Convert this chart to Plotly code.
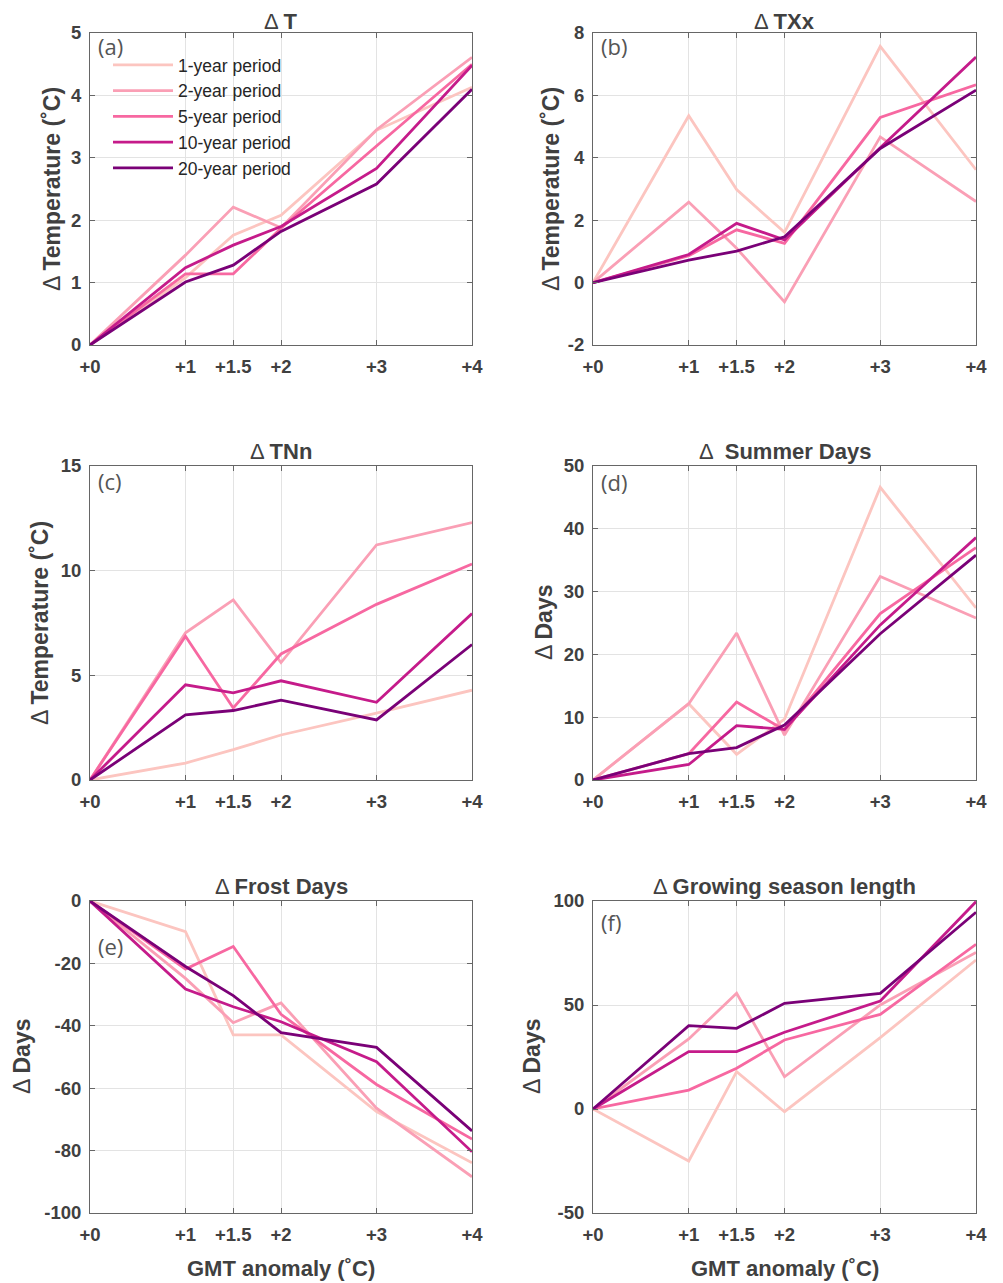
import plotly.graph_objects as go

W, H = 1003, 1283
OFF = 8  # page body margin in the rendered html

gmt = [0, 1, 1.5, 2, 3, 4]
gmt_labels = ["+0", "+1", "+1.5", "+2", "+3", "+4"]
periods = ["1-year period", "2-year period", "5-year period", "10-year period", "20-year period"]
colors = ["#fcc5c0", "#fa9fb5", "#f768a1", "#c51b8a", "#7a0177"]

# (a) Delta T
dT_1 = [0, 1.08, 1.76, 2.08, 3.44, 4.13]
dT_2 = [0, 1.44, 2.21, 1.88, 3.45, 4.61]
dT_5 = [0, 1.14, 1.14, 1.87, 3.19, 4.50]
dT_10 = [0, 1.24, 1.60, 1.90, 2.83, 4.48]
dT_20 = [0, 1.01, 1.28, 1.82, 2.58, 4.10]

# (b) Delta TXx
txx_1 = [0, 5.35, 2.98, 1.61, 7.57, 3.62]
txx_2 = [0, 2.58, 1.10, -0.62, 4.67, 2.60]
txx_5 = [0, 0.86, 1.69, 1.26, 5.29, 6.34]
txx_10 = [0, 0.90, 1.90, 1.37, 4.32, 7.23]
txx_20 = [0, 0.72, 1.01, 1.47, 4.30, 6.17]

# (c) Delta TNn
tnn_1 = [0, 0.81, 1.45, 2.15, 3.19, 4.29]
tnn_2 = [0, 7.03, 8.60, 5.61, 11.23, 12.30]
tnn_5 = [0, 6.87, 3.44, 6.02, 8.39, 10.32]
tnn_10 = [0, 4.55, 4.16, 4.74, 3.71, 7.95]
tnn_20 = [0, 3.11, 3.32, 3.81, 2.87, 6.47]

# (d) Delta Summer Days
su_1 = [0, 12.15, 4.09, 9.68, 46.6, 27.4]
su_2 = [0, 12.15, 23.4, 7.15, 32.4, 25.8]
su_5 = [0, 4.19, 12.4, 7.96, 26.5, 37.0]
su_10 = [0, 2.47, 8.66, 8.06, 24.7, 38.6]
su_20 = [0, 4.19, 5.16, 8.76, 23.3, 35.8]

# (e) Delta Frost Days
fd_1 = [0, -9.8, -42.9, -42.9, -67.5, -83.9]
fd_2 = [0, -24.8, -39.0, -32.7, -66.4, -88.4]
fd_5 = [0, -21.8, -14.6, -36.3, -58.8, -76.3]
fd_10 = [0, -28.2, -33.9, -38.7, -51.5, -80.4]
fd_20 = [0, -21.0, -30.3, -42.2, -46.9, -73.7]

# (f) Delta Growing season length
gsl_1 = [0, -25.0, 18.0, -1.3, 34.3, 71.6]
gsl_2 = [0, 33.7, 55.6, 15.5, 50.0, 75.3]
gsl_5 = [0, 9.1, 19.6, 33.2, 45.5, 79.2]
gsl_10 = [0, 27.6, 27.6, 36.9, 51.9, 99.7]
gsl_20 = [0, 40.1, 38.8, 50.8, 55.6, 94.6]

panels = [
    dict(series=[dT_1, dT_2, dT_5, dT_10, dT_20], title="T", ylabel="Temperature (˚C)",
         yticks=[0, 1, 2, 3, 4, 5], yrange=[0, 5], tag="(a)"),
    dict(series=[txx_1, txx_2, txx_5, txx_10, txx_20], title="TXx", ylabel="Temperature (˚C)",
         yticks=[-2, 0, 2, 4, 6, 8], yrange=[-2, 8], tag="(b)"),
    dict(series=[tnn_1, tnn_2, tnn_5, tnn_10, tnn_20], title="TNn", ylabel="Temperature (˚C)",
         yticks=[0, 5, 10, 15], yrange=[0, 15], tag="(c)"),
    dict(series=[su_1, su_2, su_5, su_10, su_20], title=" Summer Days", ylabel="Days",
         yticks=[0, 10, 20, 30, 40, 50], yrange=[0, 50], tag="(d)"),
    dict(series=[fd_1, fd_2, fd_5, fd_10, fd_20], title="Frost Days", ylabel="Days",
         yticks=[-100, -80, -60, -40, -20, 0], yrange=[-100, 0], tag="(e)"),
    dict(series=[gsl_1, gsl_2, gsl_5, gsl_10, gsl_20], title="Growing season length", ylabel="Days",
         yticks=[-50, 0, 50, 100], yrange=[-50, 100], tag="(f)"),
]

# layout geometry (screen pixels)
cols = [(90, 472), (593, 976)]
rows = [(33, 345), (466, 780), (901, 1213)]
ytitle_x = [52, 551, 40, 544, 22, 532]
tag_y = [46, 46, 481, 482, 946, 922]
title_gap = [-3, 0, 0]


def px(x):
    return (x - OFF) / W


def py(y):
    return 1 - (y - OFF) / H


FONT = "Liberation Sans, Arial"
TICKFONT = dict(family=FONT, size=18.5, color="#404040")
fig = go.Figure()
layout = dict(width=W, height=H, margin=dict(l=0, r=0, t=0, b=0, autoexpand=False),
              paper_bgcolor="white", plot_bgcolor="white", showlegend=True)
annotations = []

for i, p in enumerate(panels):
    r, c = divmod(i, 2)
    x0, x1 = cols[c]
    y0, y1 = rows[r]
    n = i + 1
    xa = "x" if n == 1 else f"x{n}"
    ya = "y" if n == 1 else f"y{n}"
    for k, s in enumerate(p["series"]):
        fig.add_trace(go.Scatter(x=gmt, y=s, mode="lines", xaxis=xa, yaxis=ya,
                                 name=periods[k], showlegend=(i == 0),
                                 line=dict(color=colors[k], width=2.8)))
    common = dict(showgrid=True, gridcolor="#e3e3e3", gridwidth=1, zeroline=False,
                  showline=True, linecolor="#666666", linewidth=1, mirror="ticks",
                  ticks="inside", ticklen=5, tickcolor="#666666", tickfont=TICKFONT,
                  automargin=False)
    layout[f"xaxis{'' if n == 1 else n}"] = dict(
        domain=[px(x0), px(x1)], anchor=ya, range=[0, 4], tickmode="array", tickvals=gmt,
        ticktext=[f"<b>{t}</b>" for t in gmt_labels], ticklabelstandoff=5, **common)
    layout[f"yaxis{'' if n == 1 else n}"] = dict(
        domain=[py(y1), py(y0)], anchor=xa, range=p["yrange"], tickmode="array", tickvals=p["yticks"],
        ticktext=[f"<b>{t}</b>" for t in p["yticks"]], ticklabelstandoff=4, **common)
    cx = (x0 + x1) / 2
    annotations.append(dict(text=f"Δ <b>{p['title']}</b>", xref="paper", yref="paper",
                            x=px(cx), y=py(y0 - title_gap[r]), xanchor="center", yanchor="bottom",
                            showarrow=False, font=dict(family=FONT, size=22, color="#404040")))
    annotations.append(dict(text=f"Δ <b>{p['ylabel']}</b>", xref="paper", yref="paper",
                            x=px(ytitle_x[i]), y=py((y0 + y1) / 2), xanchor="center", yanchor="middle",
                            textangle=-90, showarrow=False,
                            font=dict(family=FONT, size=23, color="#404040")))
    annotations.append(dict(text=p["tag"], xref="paper", yref="paper",
                            x=px(x0 + 6), y=py(tag_y[i]), xanchor="left", yanchor="middle",
                            showarrow=False, font=dict(family="Open Sans, Noto Sans", size=22, color="#555555")))
    if r == 2:
        annotations.append(dict(text="<b>GMT anomaly (˚C)</b>", xref="paper", yref="paper",
                                x=px(cx), y=py(1268), xanchor="center", yanchor="middle",
                                showarrow=False, font=dict(family=FONT, size=22, color="#404040")))

layout["annotations"] = annotations
layout["legend"] = dict(x=px(108), y=py(47), xanchor="left", yanchor="top",
                        bgcolor="rgba(0,0,0,0)", borderwidth=0, tracegroupgap=0,
                        itemwidth=60, font=dict(family=FONT, size=17.5, color="#262626"))
fig.update_layout(**layout)
fig.write_html("out.html")
